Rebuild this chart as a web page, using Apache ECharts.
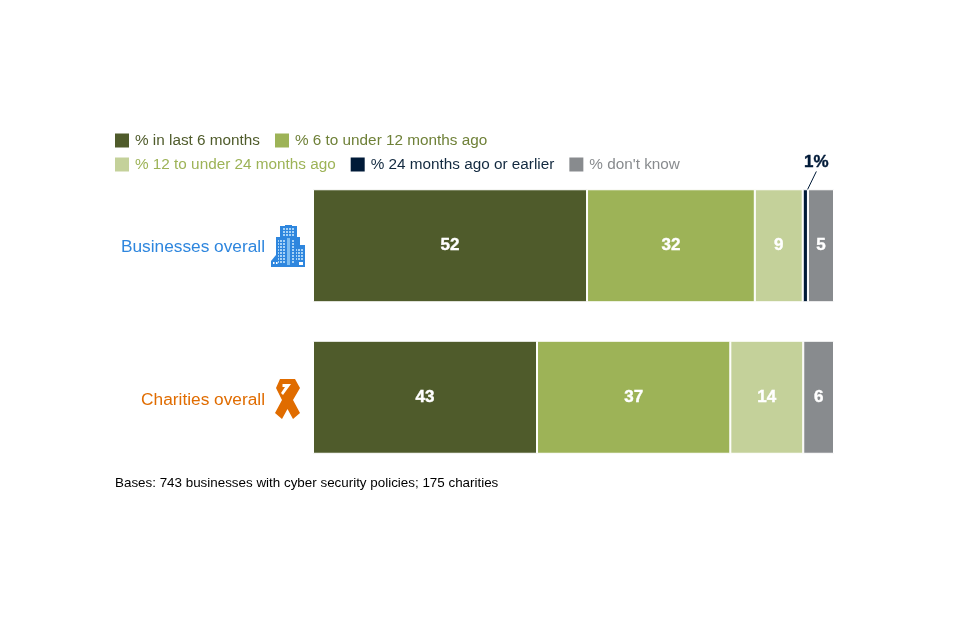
<!DOCTYPE html>
<html>
<head>
<meta charset="utf-8">
<style>html,body{margin:0;padding:0;background:#fff}#chart{width:960px;height:640px}</style>
<script src="https://cdn.jsdelivr.net/npm/echarts@6/dist/echarts.min.js"></script>
</head>
<body>
<div id="chart"></div>
<script>
// categories and series names
const categories = ['Businesses overall', 'Charities overall'];
const seriesNames = ['% in last 6 months', '% 6 to under 12 months ago', '% 12 to under 24 months ago', '% 24 months ago or earlier', "% don't know"];

// bar lengths
const lastSix = [52.6, 43];
const sixToTwelve = [32.2, 37.1];
const twelveToTwentyFour = [9.2, 14];
const olderThanTwentyFour = [1, null];
const dontKnow = [5, 5.9];

// numbers as printed on the bars
const lastSixLabels = ['52', '43'];
const sixToTwelveLabels = ['32', '37'];
const twelveToTwentyFourLabels = ['9', '14'];
const olderLabels = ['1%', ''];
const dontKnowLabels = ['5', '6'];

const barColors = ['#4f5b2b', '#9db357', '#c4d19a', '#001a38', '#888b8e'];
const legendTextColors = ['#4f5b2b', '#6f8138', '#9db357', '#12293f', '#888b8e'];
const categoryColors = ['#2e86de', '#e06c00'];

const buildingIcon = 'data:image/svg+xml;utf8,' + encodeURIComponent(
    '<svg xmlns="http://www.w3.org/2000/svg" viewBox="0 0 34 42" width="34" height="42">' +
    '<defs><pattern id="w" width="3" height="3" patternUnits="userSpaceOnUse"><rect width="2" height="2" fill="#a6d2f6"/></pattern></defs>' +
    '<g fill="#2e86de">' +
    '<rect x="14" y="0" width="7" height="2"/><rect x="9" y="1" width="17" height="11"/>' +
    '<rect x="5" y="12" width="24" height="30"/><rect x="23" y="20" width="11" height="22"/>' +
    '<path d="M0 36 L5 30 L9 35 L9 42 L0 42 Z"/></g>' +
    '<rect x="11" y="3" width="13" height="8" fill="url(#w)"/>' +
    '<rect x="7" y="14" width="8" height="24" fill="url(#w)"/><rect x="20" y="14" width="3" height="24" fill="url(#w)"/>' +
    '<rect x="16" y="13" width="3" height="27" fill="#7fbdf0"/>' +
    '<rect x="25" y="23" width="8" height="12" fill="url(#w)"/>' +
    '<g fill="#fff">' +
    '<rect x="28" y="37" width="4" height="3"/>' +
    '<rect x="2" y="37" width="1.5" height="2"/><rect x="5" y="37" width="1.5" height="2"/>' +
    '</g></svg>'
);

const ribbonIcon = 'data:image/svg+xml;utf8,' + encodeURIComponent(
    '<svg xmlns="http://www.w3.org/2000/svg" viewBox="0 0 26 40" width="26" height="40">' +
    '<path fill="#e06c00" fill-rule="evenodd" d="M5 0 L20 0 L25 9 L18 21 L25 34 L18 40 L12.5 30 L7 40 L0 34 L7 21 L1 9 Z M7.5 5 L16 5 L8 16 L6 14 L10 8 L7.5 8 Z"/>' +
    '</svg>'
);

function barSeries(index, values, labels) {
    return {
        name: seriesNames[index],
        type: 'bar',
        stack: 'total',
        barWidth: 113,
        data: values,
        itemStyle: { color: barColors[index], borderColor: '#fff', borderWidth: 1 },
        label: {
            show: true,
            position: 'inside',
            color: '#fff',
            fontSize: 17,
            fontWeight: 'bold',
            textBorderColor: '#fff',
            textBorderWidth: 0.4,
            formatter: function (p) { return labels[p.dataIndex]; }
        }
    };
}

const chart = echarts.init(document.getElementById('chart'));

const olderSeries = barSeries(3, olderThanTwentyFour, olderLabels);
// callout for the thin 1% slice
olderSeries.label.position = 'top';
olderSeries.label.color = '#001a38';
olderSeries.label.textBorderColor = '#001a38';
olderSeries.labelLayout = { dx: 11, dy: -13 };
olderSeries.labelLine = { show: true, lineStyle: { color: '#001a38', width: 1 } };

chart.setOption({
    animation: false,
    backgroundColor: '#fff',
    textStyle: { fontFamily: '"Liberation Sans", Arial, sans-serif' },
    title: {
        text: 'Bases: 743 businesses with cyber security policies; 175 charities',
        left: 115,
        top: 477,
        padding: 0,
        textStyle: { color: '#000', fontSize: 13.4, fontWeight: 'normal', fontFamily: '"Liberation Sans", Arial, sans-serif' }
    },
    legend: [
        {
            left: 115, top: 133, padding: 0, itemWidth: 14, itemHeight: 14, itemGap: 15,
            icon: 'rect', selectedMode: false, orient: 'horizontal',
            itemStyle: { borderWidth: 0 },
            textStyle: { fontSize: 15.3, padding: [1, 0, 0, 1] },
            data: [0, 1].map(i => ({ name: seriesNames[i], textStyle: { color: legendTextColors[i] } }))
        },
        {
            left: 115, top: 157, padding: 0, itemWidth: 14, itemHeight: 14, itemGap: 15,
            icon: 'rect', selectedMode: false, orient: 'horizontal',
            itemStyle: { borderWidth: 0 },
            textStyle: { fontSize: 15.3, padding: [1, 0, 0, 1] },
            data: [2, 3, 4].map(i => ({ name: seriesNames[i], textStyle: { color: legendTextColors[i] } }))
        }
    ],
    grid: { left: 313, top: 170, width: 521, height: 303 },
    xAxis: { type: 'value', min: 0, max: 100, show: false },
    yAxis: {
        type: 'category',
        inverse: true,
        data: categories,
        axisLine: { show: false },
        axisTick: { show: false },
        axisLabel: {
            margin: 48,
            formatter: function (value, index) { return '{c' + index + '|' + value + '}'; },
            rich: {
                c0: { fontSize: 17.3, color: categoryColors[0], padding: [2, 0, 0, 0] },
                c1: { fontSize: 17.3, color: categoryColors[1], padding: [5, 0, 0, 0] }
            }
        }
    },
    graphic: [
        { type: 'image', left: 271, top: 225, style: { image: buildingIcon, width: 34, height: 42 } },
        { type: 'image', left: 275, top: 379, style: { image: ribbonIcon, width: 26, height: 40 } }
    ],
    series: [
        barSeries(0, lastSix, lastSixLabels),
        barSeries(1, sixToTwelve, sixToTwelveLabels),
        barSeries(2, twelveToTwentyFour, twelveToTwentyFourLabels),
        olderSeries,
        barSeries(4, dontKnow, dontKnowLabels)
    ]
});
</script>
</body>
</html>
